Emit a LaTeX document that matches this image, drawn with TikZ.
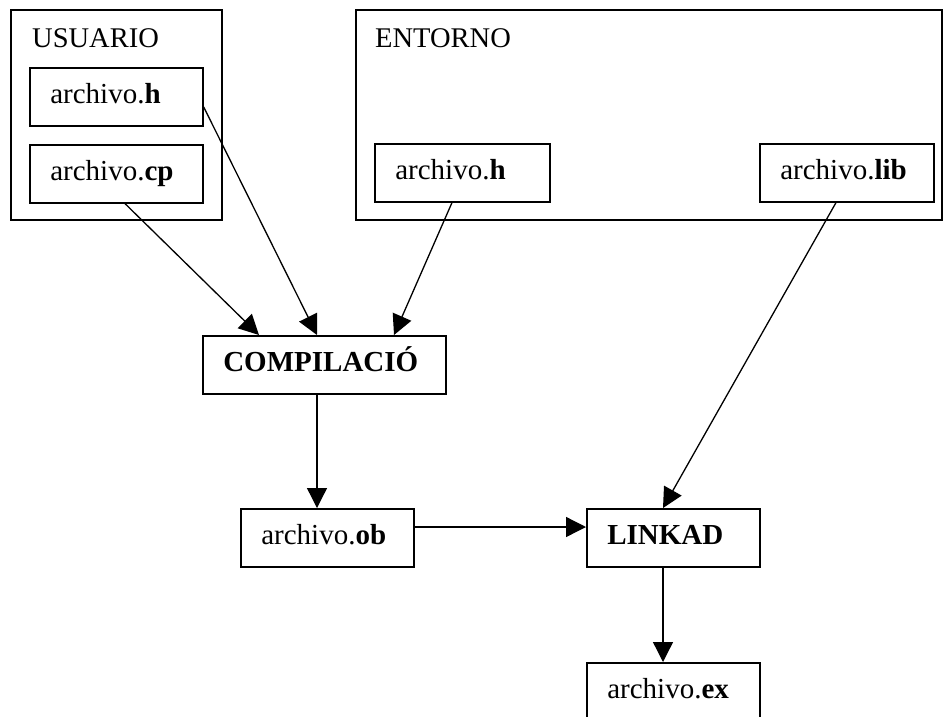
\documentclass[tikz,border=0pt]{standalone}
\usepackage{fontspec}
\setmainfont{Liberation Serif}
\usetikzlibrary{arrows.meta,calc}
\begin{document}
\begin{tikzpicture}[x=1pt,y=-1pt,
  frame/.style={draw, line width=1.6pt, anchor=north west, inner sep=0pt},
  lab/.style={anchor=base west, inner sep=0pt, font=\fontsize{28.5}{32}\selectfont},
  box/.style={draw, line width=1.6pt, anchor=north west, minimum height=58pt, inner xsep=20.5pt, inner ysep=0pt, text height=20pt, text depth=6pt, text width=#1, align=left, font=\fontsize{29}{33}\selectfont},
  arr/.style={line width=1.3pt, -{Triangle[length=20pt,width=20pt]}}]
\useasboundingbox (0,0) rectangle (943,716);
% containers
\node[frame, minimum width=211pt, minimum height=210pt] (usr) at (10,9) {};
\node[lab] (usrlab) at (32,47) {USUARIO};
\node[frame, minimum width=586pt, minimum height=210pt] (ent) at (355,9) {};
\node[lab] (entlab) at (375,47) {ENTORNO};
% boxes
\node[box=132pt] (uh) at (29,67) {archivo.\textbf{h}};
\node[box=132pt] (ucp) at (29,144) {archivo.\textbf{cp}};
\node[box=134pt] (eh) at (374,143) {archivo.\textbf{h}};
\node[box=133pt] (lib) at (759,143) {archivo.\textbf{lib}};
\node[box=202pt] (comp) at (202,335) {\textbf{COMPILACIÓ}};
\node[box=132pt] (ob) at (240,508) {archivo.\textbf{ob}};
\node[box=132pt] (lnk) at (586,508) {\textbf{LINKAD}};
\node[box=132pt] (ex) at (586,662) {archivo.\textbf{ex}};
% connectors
\draw[arr] ($(ucp.south west)+(96,0)$) -- ($(comp.north west)+(57,0)$);
\draw[arr] ($(uh.east)+(0,10)$) -- ($(comp.north west)+(115,0)$);
\draw[arr] ($(eh.south west)+(78,0)$) -- ($(comp.north west)+(192,0)$);
\draw[arr] ($(lib.south west)+(77,0)$) -- ($(lnk.north west)+(77,0)$);
\draw[arr] ($(comp.south west)+(115,0)$) -- ($(ob.north west)+(77,0)$);
\draw[arr] ($(ob.north east)+(0,19)$) -- ($(lnk.north west)+(0,19)$);
\draw[arr] ($(lnk.south west)+(77,0)$) -- ($(ex.north west)+(77,0)$);
\end{tikzpicture}
\end{document}
